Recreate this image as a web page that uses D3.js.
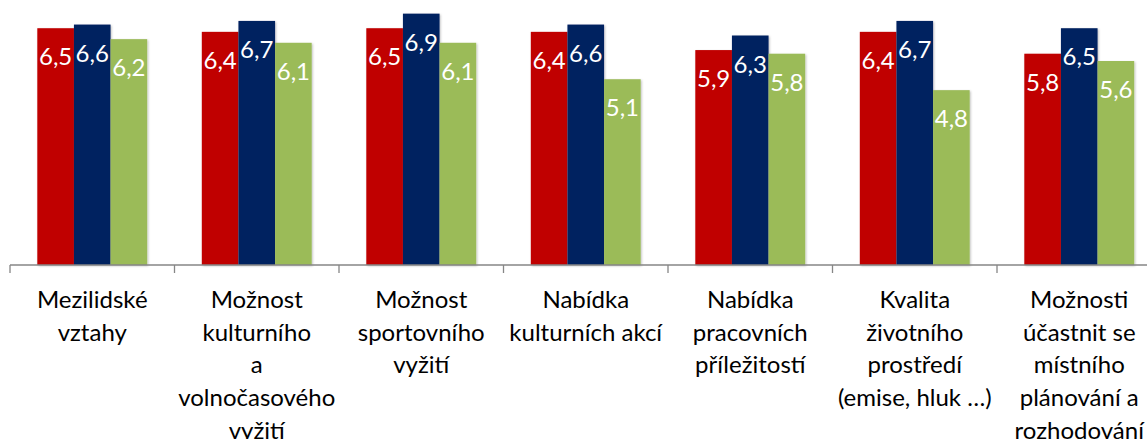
<!DOCTYPE html>
<html>
<head>
<meta charset="utf-8">
<script src="https://cdn.jsdelivr.net/npm/d3@7"></script>
<style>
  html, body { margin: 0; padding: 0; background: #fff; }
  svg { display: block; font-family: Lato, "Open Sans", sans-serif; }
</style>
</head>
<body>
<div id="chart"></div>
<script>
// categories (each label split into its printed lines)
const categories = [
  ['Mezilidské', 'vztahy'],
  ['Možnost', 'kulturního', 'a', 'volnočasového', 'vyžití'],
  ['Možnost', 'sportovního', 'vyžití'],
  ['Nabídka', 'kulturních akcí'],
  ['Nabídka', 'pracovních', 'příležitostí'],
  ['Kvalita', 'životního', 'prostředí', '(emise, hluk …)'],
  ['Možnosti', 'účastnit se', 'místního', 'plánování a', 'rozhodování']
];

const seriesNames = ['red', 'navy', 'green'];
const redValues = [6.5, 6.4, 6.5, 6.4, 5.9, 6.4, 5.8];
const navyValues = [6.6, 6.7, 6.9, 6.6, 6.3, 6.7, 6.5];
const greenValues = [6.2, 6.1, 6.1, 5.1, 5.8, 4.8, 5.6];
const seriesColors = ['#c00000', '#002060', '#9bbb59'];

const width = 1147, height = 439;
const margin = { top: 10, left: 10, bottom: 174 };
const catStep = 164.5;
const baseline = height - margin.bottom;

const svg = d3.select('#chart').append('svg')
  .attr('width', width)
  .attr('height', height);

const catIds = categories.map((_, i) => i);
const x0 = d3.scaleBand()
  .domain(catIds)
  .range([margin.left, margin.left + catStep * categories.length])
  .padding(0);

const groupWidth = x0.bandwidth() * 0.668;
const x1 = d3.scaleBand()
  .domain(seriesNames)
  .range([(x0.bandwidth() - groupWidth) / 2, (x0.bandwidth() + groupWidth) / 2])
  .padding(0);

const y = d3.scaleLinear()
  .domain([0, 7])
  .range([baseline, margin.top]);

const allValues = [redValues, navyValues, greenValues];
const rows = catIds.map(i => seriesNames.map((s, j) => ({ cat: i, series: s, idx: j, value: allValues[j][i] })));

// soft shadow like the original
const defs = svg.append('defs');
const f = defs.append('filter').attr('id', 'shadow').attr('x', '-10%').attr('y', '-10%').attr('width', '130%').attr('height', '130%');
f.append('feDropShadow').attr('dx', 1).attr('dy', 1).attr('stdDeviation', 1.2).attr('flood-color', '#000').attr('flood-opacity', 0.25);

const groups = svg.selectAll('g.cat')
  .data(rows)
  .enter().append('g')
  .attr('class', 'cat')
  .attr('transform', (d, i) => `translate(${x0(i)},0)`);

groups.selectAll('rect')
  .data(d => d)
  .enter().append('rect')
  .attr('x', d => x1(d.series))
  .attr('y', d => y(d.value))
  .attr('width', x1.bandwidth())
  .attr('height', d => baseline - y(d.value))
  .attr('fill', d => seriesColors[d.idx])
  .attr('filter', 'url(#shadow)');

groups.selectAll('text.val')
  .data(d => d)
  .enter().append('text')
  .attr('class', 'val')
  .attr('x', d => x1(d.series) + x1.bandwidth() / 2)
  .attr('y', d => y(d.value) + 37)
  .attr('text-anchor', 'middle')
  .attr('fill', '#fff')
  .style('font-size', '24px')
  .text(d => d.value.toFixed(1).replace('.', ','));

// axis
const axis = svg.append('g').attr('transform', `translate(0,${baseline})`);
axis.append('line')
  .attr('x1', margin.left).attr('x2', width)
  .attr('stroke', '#868686').attr('stroke-width', 1.3);
axis.selectAll('line.tick')
  .data(d3.range(categories.length + 1))
  .enter().append('line')
  .attr('class', 'tick')
  .attr('x1', i => margin.left + i * x0.step())
  .attr('x2', i => margin.left + i * x0.step())
  .attr('y1', 0).attr('y2', 8)
  .attr('stroke', '#868686').attr('stroke-width', 1.3);

// category labels
const labels = svg.selectAll('text.cat')
  .data(categories)
  .enter().append('text')
  .attr('class', 'cat')
  .attr('x', (d, i) => x0(i) + x0.bandwidth() / 2)
  .attr('y', baseline + 43)
  .attr('text-anchor', 'middle')
  .attr('fill', '#000')
  .style('font-size', '24px');

labels.selectAll('tspan')
  .data(d => d)
  .enter().append('tspan')
  .attr('x', function () { return this.parentNode.getAttribute('x'); })
  .attr('dy', (d, i) => i === 0 ? 0 : 32.7)
  .text(d => d);
</script>
</body>
</html>
